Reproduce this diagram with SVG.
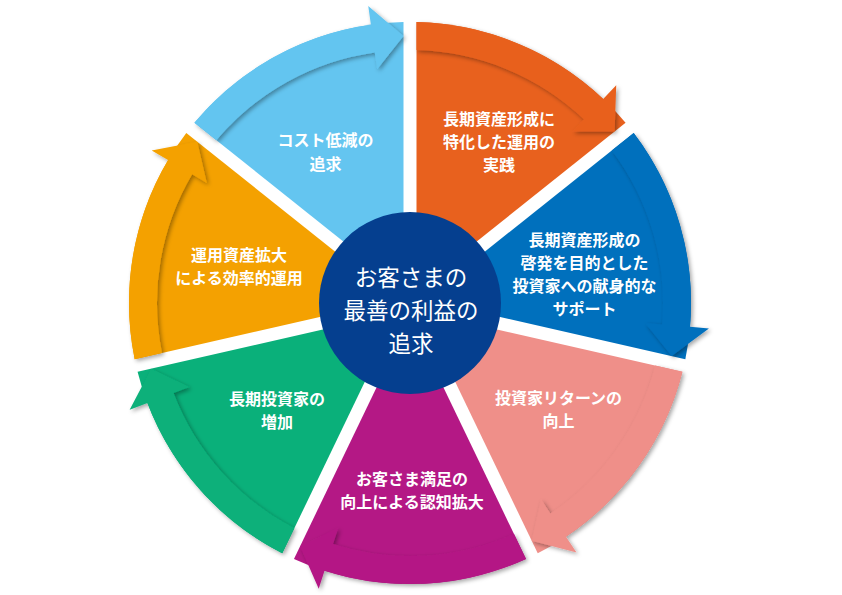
<svg xmlns="http://www.w3.org/2000/svg" xmlns:xlink="http://www.w3.org/1999/xlink" width="842" height="595" viewBox="0 0 842 595">
<style>
.t{font-family:"Noto Sans CJK JP","Noto Sans",sans-serif;font-size:16px;font-weight:bold;fill:#fff;text-anchor:middle}
.c{font-family:"Noto Sans CJK JP","Noto Sans",sans-serif;font-size:22.5px;font-weight:normal;fill:#fff;text-anchor:middle}
</style>
<defs>
<path id="wedge" d="M416.508 289.485 L416.5 22.075 A281 281 0 0 1 625.582 122.763 Z"/>
<path id="band" d="M416.5 22.075 A281 281 0 0 1 603.174 98.93 L616.236 85.132 L614.633 131.495 L572.239 131.61 L583.925 119.264 A253 253 0 0 0 416.499 50.083 Z"/>
<filter id="sh" x="-15%" y="-15%" width="130%" height="130%">
<feDropShadow dx="2" dy="2" stdDeviation="2" flood-color="#000" flood-opacity="0.35"/>
</filter>
</defs>
<rect width="842" height="595" fill="#fff"/>
<g id="node-orange">
<use xlink:href="#wedge" fill="#E8611E"/>
<text class="t" x="499" y="125">長期資産形成に</text>
<text class="t" x="499" y="148">特化した運用の</text>
<text class="t" x="499" y="171">実践</text>
</g>
<g id="node-blue">
<use xlink:href="#wedge" fill="#0070BD" transform="rotate(51.428571 410 303)"/>
<text class="t" x="584.5" y="246">長期資産形成の</text>
<text class="t" x="584.5" y="269">啓発を目的とした</text>
<text class="t" x="584.5" y="292">投資家への献身的な</text>
<text class="t" x="584.5" y="315">サポート</text>
</g>
<g id="node-pink">
<use xlink:href="#wedge" fill="#EF8F89" transform="rotate(102.857143 410 303)"/>
<text class="t" x="558.5" y="404">投資家リターンの</text>
<text class="t" x="558.5" y="427">向上</text>
</g>
<g id="node-magenta">
<use xlink:href="#wedge" fill="#B41885" transform="rotate(154.285714 410 303)"/>
<text class="t" x="412" y="485">お客さま満足の</text>
<text class="t" x="412" y="508">向上による認知拡大</text>
</g>
<g id="node-green">
<use xlink:href="#wedge" fill="#0AB07A" transform="rotate(205.714286 410 303)"/>
<text class="t" x="277" y="405">長期投資家の</text>
<text class="t" x="277" y="428">増加</text>
</g>
<g id="node-yellow">
<use xlink:href="#wedge" fill="#F4A101" transform="rotate(257.142857 410 303)"/>
<text class="t" x="239" y="261">運用資産拡大</text>
<text class="t" x="239" y="284">による効率的運用</text>
</g>
<g id="node-lightblue">
<use xlink:href="#wedge" fill="#64C5F0" transform="rotate(308.571429 410 303)"/>
<text class="t" x="325.5" y="146">コスト低減の</text>
<text class="t" x="325.5" y="170">追求</text>
</g>
<g id="connectors">
<g filter="url(#sh)"><use xlink:href="#band" fill="#E8611E"/></g>
<g filter="url(#sh)"><use xlink:href="#band" fill="#0070BD" transform="rotate(51.428571 410 303)"/></g>
<g filter="url(#sh)"><use xlink:href="#band" fill="#EF8F89" transform="rotate(102.857143 410 303)"/></g>
<g filter="url(#sh)"><use xlink:href="#band" fill="#B41885" transform="rotate(154.285714 410 303)"/></g>
<g filter="url(#sh)"><use xlink:href="#band" fill="#0AB07A" transform="rotate(205.714286 410 303)"/></g>
<g filter="url(#sh)"><use xlink:href="#band" fill="#F4A101" transform="rotate(257.142857 410 303)"/></g>
<g filter="url(#sh)"><use xlink:href="#band" fill="#64C5F0" transform="rotate(308.571429 410 303)"/></g>
</g>
<g id="node-center">
<circle cx="410" cy="303" r="91" fill="#053F8F"/>
<text class="c" x="411" y="286">お客さまの</text>
<text class="c" x="411" y="319">最善の利益の</text>
<text class="c" x="411" y="352">追求</text>
</g>
</svg>
